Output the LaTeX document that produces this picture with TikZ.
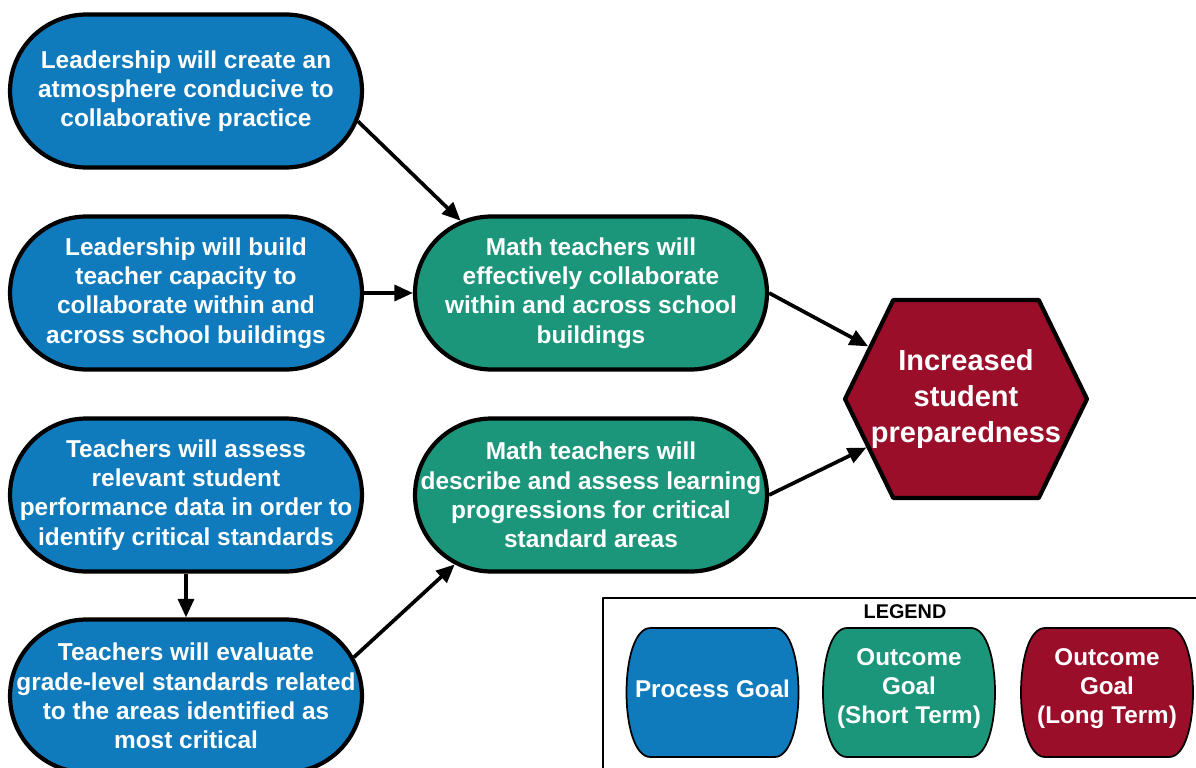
\documentclass[tikz,border=0pt]{standalone}
\usepackage{fontspec}
\setmainfont{Liberation Sans}
\usepackage{xcolor}
\usepackage{tikz}
\usetikzlibrary{arrows.meta,shapes.misc,shapes.symbols,calc}

\definecolor{procblue}{RGB}{15,123,189}
\definecolor{shortgreen}{RGB}{28,150,122}
\definecolor{longred}{RGB}{154,14,42}

\tikzset{
  goaltext/.style={text=white, font=\fontsize{13.9}{16.6}\selectfont\bfseries, align=center},
  goal/.style={rounded rectangle, draw=black, line width=2.4pt, inner sep=0pt,
    minimum width=7.04cm, minimum height=3.06cm, label={[goaltext]center:#1}},
  process/.style={goal={#1}, fill=procblue},
  shortterm/.style={goal={#1}, fill=shortgreen},
  longterm/.style={signal, signal to=west and east, signal pointer angle=128,
    draw=black, line width=2.4pt, fill=longred, text=white,
    font=\fontsize{16.5}{20.5}\selectfont\bfseries, align=center,
    minimum width=4.84cm, minimum height=3.96cm, inner xsep=-1cm},
  link/.style={line width=2.1pt, ->},
  legtext/.style={text=white, font=\fontsize{13.8}{16.5}\selectfont\bfseries, align=center}
}

% legend entry: name, centre x, colour, text
\newcommand{\legendgoal}[4]{%
  \filldraw[fill=#3, line width=1pt] (#2-62,628) -- (#2+62,628)
    .. controls (#2+94,628) and (#2+94,757) .. (#2+62,757) -- (#2-62,757)
    .. controls (#2-94,757) and (#2-94,628) .. (#2-62,628) -- cycle;
  \node[legtext] (#1) at (#2,689) {#4};}

\begin{document}
\begin{tikzpicture}[x=0.02cm,y=-0.02cm,line join=round,>={Triangle[length=10.5pt,width=9pt]}]
\useasboundingbox (0,0) rectangle (1196,767);
\clip (0,0) rectangle (1196,767);
% process goals
\node[process={Leadership will create an\\atmosphere conducive to\\collaborative practice}] (atmos) at (186,91) {};
\node[process={Leadership will build\\teacher capacity to\\collaborate within and\\across school buildings}] (capacity) at (186,293) {};
\node[process={Teachers will assess\\relevant student\\performance data in order to\\identify critical standards}] (assess) at (186,495) {};
\node[process={Teachers will evaluate\\grade-level standards related\\to the areas identified as\\most critical}] (evaluate) at (186,696) {};
% short term outcomes
\node[shortterm={Math teachers will\\effectively collaborate\\within and across school\\buildings}] (collab) at (591,293) {};
\node[shortterm={Math teachers will\\describe and assess learning\\progressions for critical\\standard areas}] (progress) at (591,495) {};
% long term outcome
\node[longterm] (prepared) at (966,399) {Increased\\student\\preparedness};
% links
\draw[link] (atmos.-10) -- (collab.151);
\draw[link] (capacity) -- (collab);
\draw[link] (collab.east) -- (prepared);
\draw[link] (progress.east) -- (prepared);
\draw[link] (assess.south) -- (evaluate.north);
\draw[link] (evaluate.13) -- (progress.207);
% legend
\draw[line width=1.4pt] (603,598) rectangle (1220,790);
\node[font=\fontsize{11.3}{12}\selectfont\bfseries] (legend) at (905,612) {LEGEND};
\legendgoal{lproc}{712.5}{procblue}{Process Goal}
\legendgoal{lshort}{909}{shortgreen}{Outcome\\Goal\\(Short Term)}
\legendgoal{llong}{1107}{longred}{Outcome\\Goal\\(Long Term)}
\end{tikzpicture}
\end{document}
